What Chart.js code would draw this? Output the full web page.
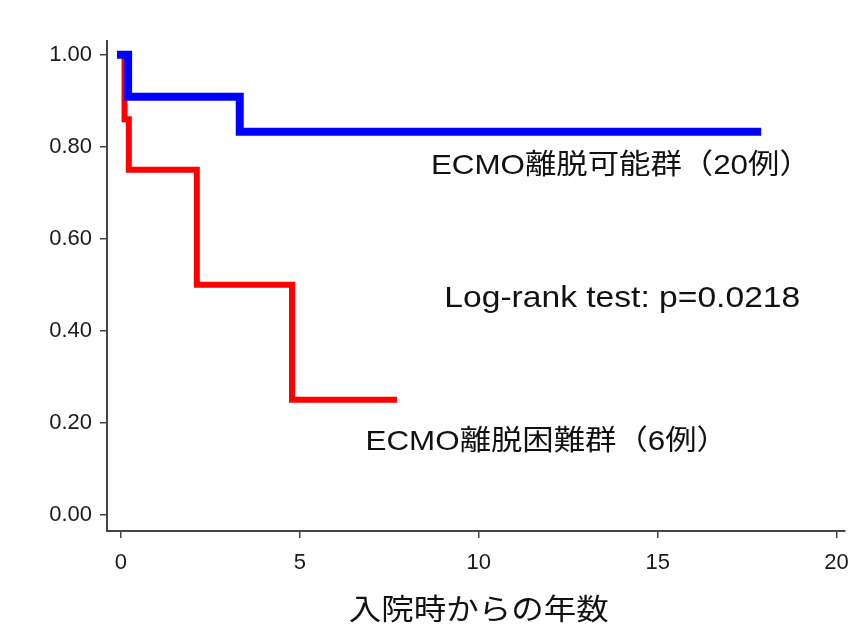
<!DOCTYPE html>
<html>
<head>
<meta charset="utf-8">
<script src="https://cdn.jsdelivr.net/npm/chart.js@4/dist/chart.umd.min.js"></script>
<style>
  html, body { margin: 0; padding: 0; background: #ffffff; }
  #wrap { width: 861px; height: 626px; }
</style>
</head>
<body>
<div id="wrap"><canvas id="c" width="861" height="626"></canvas></div>
<script>
// Kaplan-Meier step data (years since admission, survival probability)
const weanedTimes = [0, 0.2, 3.32, 17.78];
const weanedSurv  = [1.0, 0.909, 0.833, 0.833];
const difficultTimes = [0, 0.1, 0.22, 2.12, 4.78, 7.63];
const difficultSurv  = [1.0, 0.86, 0.75, 0.5, 0.25, 0.25];

const seriesNames = ['ECMO離脱可能群（20例）', 'ECMO離脱困難群（6例）'];
const testLabel = 'Log-rank test: p=0.0218';
const xTitle = '入院時からの年数';
const xTicks = [0, 5, 10, 15, 20];
const yTicks = [0, 0.2, 0.4, 0.6, 0.8, 1.0];

const toPoints = (xs, ys) => xs.map((x, i) => ({ x: x, y: ys[i] }));

const LATIN = '"Liberation Sans", Arial, sans-serif';
const MIXED = '"Liberation Sans", "Noto Sans CJK JP", sans-serif';
const STRETCH = 1.12; // slightly widened lettering for the free text

// Free text placed in data coordinates
const notes = [
  { text: seriesNames[0], x: 13.97, y: 0.758, size: 28 },
  { text: testLabel,      x: 14.01, y: 0.470, size: 30 },
  { text: seriesNames[1], x: 11.90, y: 0.157, size: 28 }
];

function drawStretched(ctx, text, cx, cy, size) {
  ctx.save();
  ctx.font = size + 'px ' + MIXED;
  ctx.textAlign = 'center';
  ctx.textBaseline = 'middle';
  ctx.fillStyle = '#111111';
  ctx.translate(cx, cy);
  ctx.scale(STRETCH, 1);
  ctx.fillText(text, 0, 0);
  ctx.restore();
}

const notesPlugin = {
  id: 'notes',
  afterDatasetsDraw(chart) {
    const ctx = chart.ctx;
    const xs = chart.scales.x, ys = chart.scales.y;
    notes.forEach(n => {
      drawStretched(ctx, n.text, xs.getPixelForValue(n.x), ys.getPixelForValue(n.y), n.size);
    });
    // x-axis caption, centred under the axis
    drawStretched(ctx, xTitle, (xs.left + xs.right) / 2 + 3, xs.bottom - 14, 29);
  }
};

new Chart(document.getElementById('c'), {
  type: 'scatter',
  data: {
    datasets: [
      {
        label: seriesNames[0],
        data: toPoints(weanedTimes, weanedSurv),
        showLine: true,
        stepped: 'before',
        borderColor: '#0000ff',
        borderWidth: 8,
        borderCapStyle: 'square',
        pointRadius: 0,
        fill: false
      },
      {
        label: seriesNames[1],
        data: toPoints(difficultTimes, difficultSurv),
        showLine: true,
        stepped: 'before',
        borderColor: '#ff0000',
        borderWidth: 6,
        borderCapStyle: 'square',
        pointRadius: 0,
        fill: false
      }
    ]
  },
  options: {
    responsive: false,
    animation: false,
    layout: { padding: { top: 41, right: 16, left: 0, bottom: 0 } },
    plugins: {
      legend: { display: false },
      tooltip: { enabled: false }
    },
    scales: {
      x: {
        type: 'linear',
        min: -0.39,
        max: 20.22,
        afterBuildTicks: s => { s.ticks = xTicks.map(v => ({ value: v })); },
        afterFit: s => { s.height = 95; },
        grid: { display: true, drawOnChartArea: false, drawTicks: true, tickLength: 7, color: '#444444', lineWidth: 1.5 },
        border: { display: true, color: '#444444', width: 2 },
        ticks: { color: '#1a1a1a', font: { family: LATIN, size: 22 }, padding: 12, maxRotation: 0 },
        title: { display: false, text: xTitle }
      },
      y: {
        type: 'linear',
        min: -0.035,
        max: 1.03,
        afterBuildTicks: s => { s.ticks = yTicks.map(v => ({ value: v })); },
        afterFit: s => { s.width = 107; },
        grid: { display: true, drawOnChartArea: false, drawTicks: true, tickLength: 7, color: '#444444', lineWidth: 1.5 },
        border: { display: true, color: '#444444', width: 2 },
        ticks: { color: '#1a1a1a', font: { family: LATIN, size: 22 }, padding: 8, callback: v => Number(v).toFixed(2) }
      }
    }
  },
  plugins: [notesPlugin]
});
</script>
</body>
</html>
